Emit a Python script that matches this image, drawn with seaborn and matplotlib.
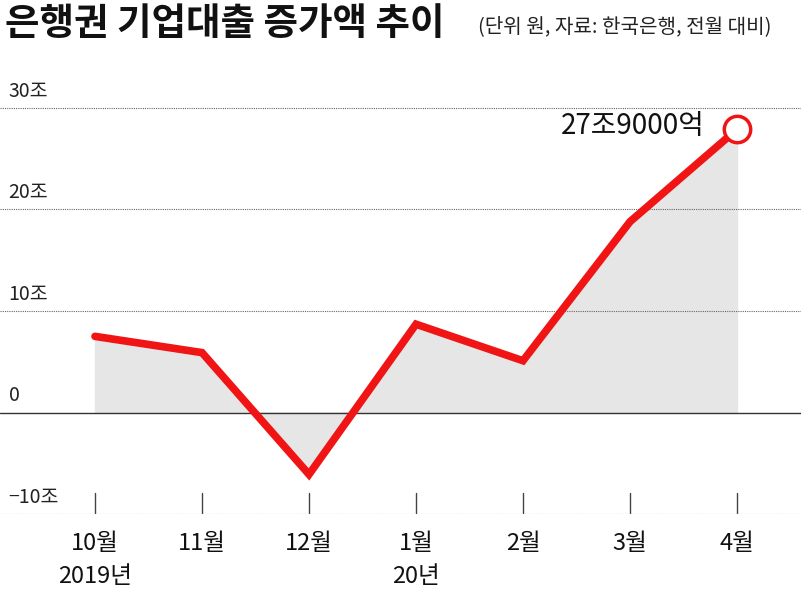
import matplotlib
matplotlib.use("Agg")
import matplotlib.pyplot as plt
import seaborn as sns
import pandas as pd
import numpy as np

months = ["10월", "11월", "12월", "1월", "2월", "3월", "4월"]
years = ["2019년", "", "", "20년", "", "", ""]
values = [7.5, 5.9, -6.1, 8.7, 5.1, 18.8, 27.9]
yticks = [30, 20, 10, 0, -10]
ylabels = ["30조", "20조", "10조", "0", "−10조"]
last_label = "27조9000억"

sns.set_theme(style="white")
plt.rcParams['font.family'] = ['Noto Sans CJK KR', 'DejaVu Sans']

df = pd.DataFrame({"x": np.arange(len(months)), "v": values})

fig = plt.figure(figsize=(8.01, 5.94), dpi=100)
ax = fig.add_axes([0, 80/594, 1, (514-100)/594])
ax.set_xlim(-95/107, 6 + 64/107)
ax.set_ylim(-10, 30 + 8/10.15)

for t in yticks:
    ax.axhline(t, color="#333333" if t == 0 else "#666666", lw=1.0 if t == 0 else 0.8,
               ls="-" if t == 0 else (0, (1, 1)), zorder=1)
for t, l in zip(yticks, ylabels):
    ax.text(-95/107 + 0.08, t + 0.6, l, fontsize=14, ha="left", va="bottom", color="#222222")

ax.fill_between(df["x"], df["v"], 0, color="#e6e6e6", zorder=0)
sns.lineplot(data=df, x="x", y="v", ax=ax, color="#f01414", lw=5.5, zorder=3,
             solid_joinstyle="miter")
ax.plot(df["x"].iloc[-1], values[-1], "o", ms=19, mfc="white", mec="#f01414", mew=2.5,
        zorder=4, clip_on=False)
ax.text(df["x"].iloc[-1] - 0.3, values[-1] + 0.3, last_label, fontsize=20, ha="right",
        va="center", color="#111111")

for i in df["x"]:
    ax.plot([i, i], [-7.9, -9.9], color="#444444", lw=1.0, zorder=2)
    ax.text(i, -11.8, months[i], fontsize=17, ha="center", va="top", color="#111111",
            clip_on=False)
    if years[i]:
        ax.text(i, -15.0, years[i], fontsize=17, ha="center", va="top", color="#111111",
                clip_on=False)

ax.set_xlabel("")
ax.set_ylabel("")
ax.set_xticks([])
ax.set_yticks([])
for s in ax.spines.values():
    s.set_visible(False)
ax.patch.set_alpha(0)

fig.text(0.006, 0.961, "은행권 기업대출 증가액 추이", fontsize=27, fontweight="bold",
         ha="left", va="center", color="#111111")
fig.text(0.597, 0.956, "(단위 원, 자료: 한국은행, 전월 대비)", fontsize=14.5,
         ha="left", va="center", color="#222222")

fig.savefig("out.png", dpi=100)
